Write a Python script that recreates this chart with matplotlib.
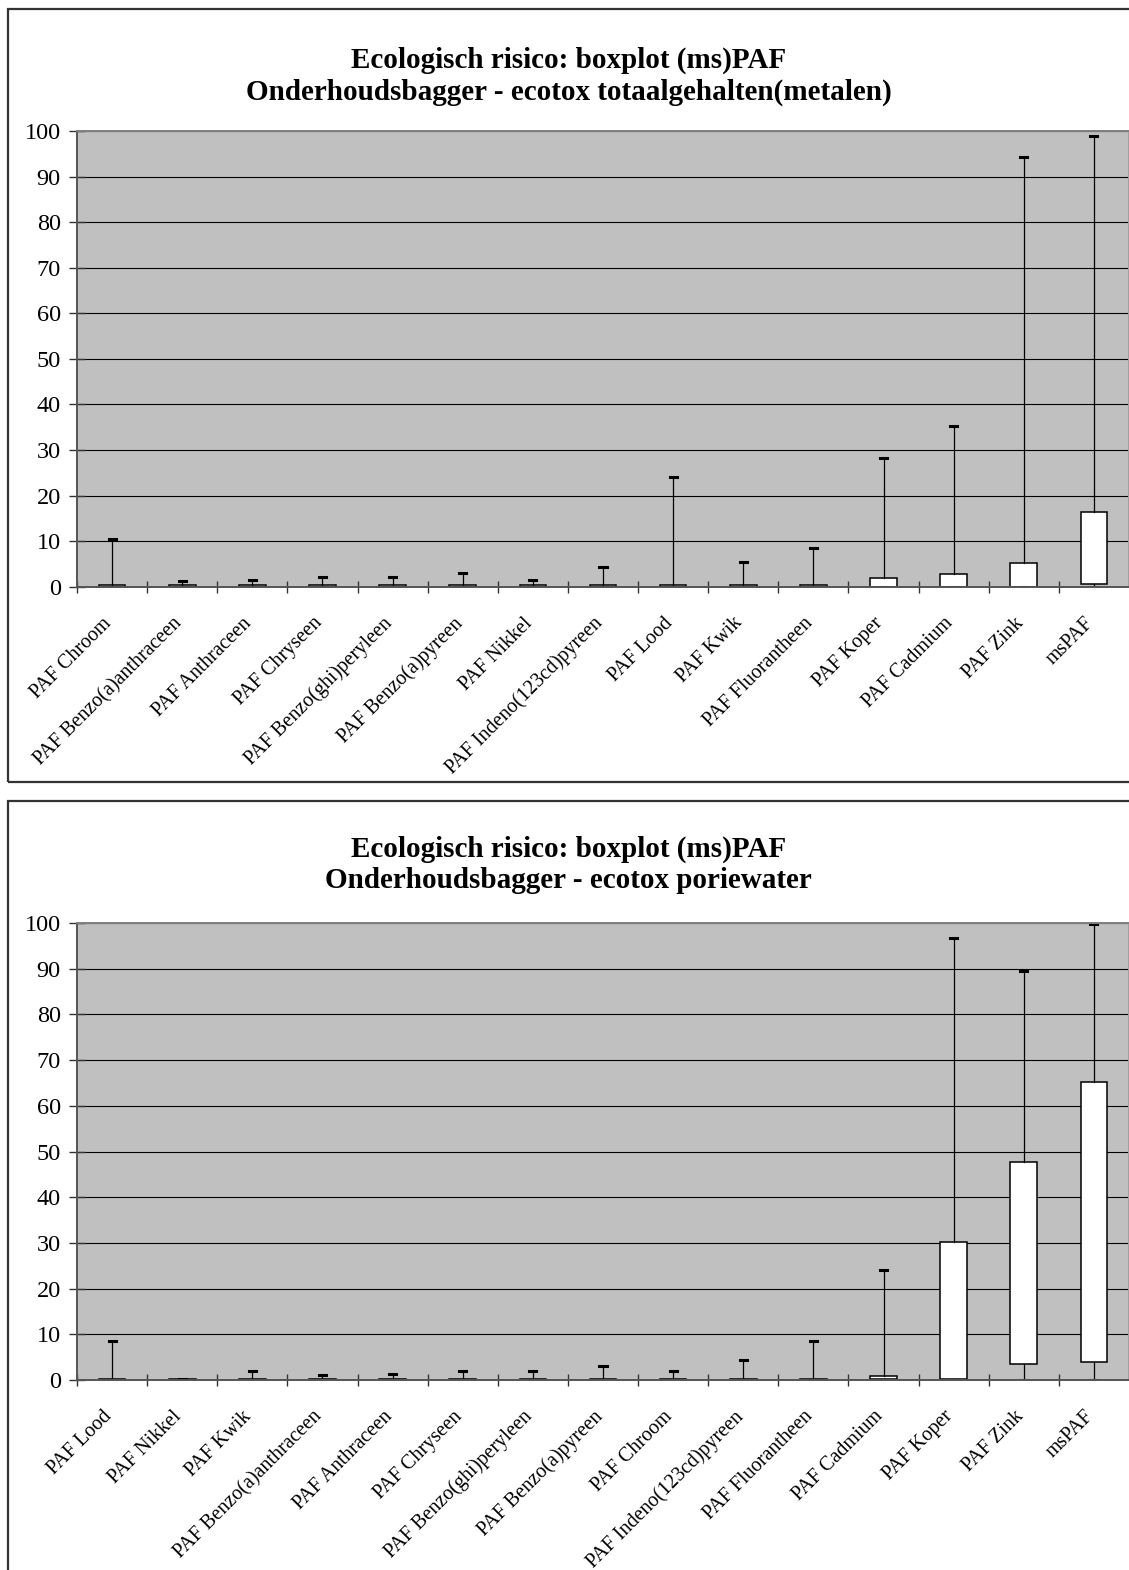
import matplotlib
matplotlib.use("Agg")
import matplotlib.pyplot as plt
from matplotlib.patches import Rectangle
from matplotlib.transforms import ScaledTranslation

plt.rcParams['font.family'] = ['Liberation Serif', 'DejaVu Serif']

# --- data: top panel (totaalgehalten metalen)
labels_top = ["PAF Chroom", "PAF Benzo(a)anthraceen", "PAF Anthraceen", "PAF Chryseen",
              "PAF Benzo(ghi)peryleen", "PAF Benzo(a)pyreen", "PAF Nikkel",
              "PAF Indeno(123cd)pyreen", "PAF Lood", "PAF Kwik", "PAF Fluorantheen",
              "PAF Koper", "PAF Cadmium", "PAF Zink", "msPAF"]
lo_top = [0, 0, 0, 0, 0, 0, 0, 0, 0, 0, 0, 0, 0, 0, 0]
q1_top = [0, 0, 0, 0, 0, 0, 0, 0, 0, 0, 0, 0, 0, 0, 0.5]
q3_top = [0.3, 0.3, 0.3, 0.3, 0.3, 0.3, 0.3, 0.3, 0.3, 0.3, 0.3, 2.0, 2.7, 5.2, 16.5]
hi_top = [10.5, 1.3, 1.5, 2.1, 2.1, 3.1, 1.5, 4.4, 24.1, 5.5, 8.4, 28.2, 35.2, 94.2, 98.9]

# --- data: bottom panel (poriewater)
labels_bot = ["PAF Lood", "PAF Nikkel", "PAF Kwik", "PAF Benzo(a)anthraceen", "PAF Anthraceen",
              "PAF Chryseen", "PAF Benzo(ghi)peryleen", "PAF Benzo(a)pyreen", "PAF Chroom",
              "PAF Indeno(123cd)pyreen", "PAF Fluorantheen", "PAF Cadmium", "PAF Koper",
              "PAF Zink", "msPAF"]
lo_bot = [0, 0, 0, 0, 0, 0, 0, 0, 0, 0, 0, 0, 0, 0, 0]
q1_bot = [0, 0, 0, 0, 0, 0, 0, 0, 0, 0, 0, 0.2, 0.2, 3.5, 3.9]
q3_bot = [0.3, 0.2, 0.3, 0.3, 0.3, 0.3, 0.3, 0.3, 0.3, 0.3, 0.3, 0.9, 30.1, 47.7, 65.3]
hi_bot = [8.5, 0.2, 2.0, 1.2, 1.4, 2.0, 2.0, 3.0, 1.9, 4.4, 8.5, 24.1, 96.7, 89.6, 99.8]

titles = ["Ecologisch risico: boxplot (ms)PAF\nOnderhoudsbagger - ecotox totaalgehalten(metalen)",
          "Ecologisch risico: boxplot (ms)PAF\nOnderhoudsbagger - ecotox poriewater"]

W, H = 1129, 1570
fig = plt.figure(figsize=(W / 100, H / 100), dpi=100)

# outer chart frames (pixel coords, from top)
for (x0, y0, x1, y1) in [(8, 9, 1140, 782), (8, 801, 1140, 1590)]:
    fig.patches.append(Rectangle((x0 / W, 1 - y1 / H), (x1 - x0) / W, (y1 - y0) / H,
                                 transform=fig.transFigure, fill=False,
                                 edgecolor='#333333', linewidth=1.6, zorder=0))


def draw_panel(rect, labels, lo, q1, q3, hi, title, title_y):
    ax = fig.add_axes(rect)
    ax.set_facecolor('#C0C0C0')
    stats = []
    for i in range(len(labels)):
        stats.append(dict(med=q1[i], q1=q1[i], q3=q3[i], whislo=lo[i], whishi=hi[i], fliers=[]))
    pos = list(range(1, len(labels) + 1))
    ax.bxp(stats, positions=pos, widths=0.38, capwidths=0.1, patch_artist=True,
           showfliers=False,
           boxprops=dict(facecolor='white', edgecolor='black', linewidth=1.1),
           whiskerprops=dict(color='black', linewidth=0.9),
           capprops=dict(color='black', linewidth=2.2),
           medianprops=dict(linewidth=0))
    ax.set_xlim(0.5, len(labels) + 0.5)
    ax.set_ylim(0, 100)
    ax.set_yticks(range(0, 101, 10))
    ax.yaxis.grid(True, color='black', linewidth=0.8)
    ax.set_axisbelow(True)
    ax.tick_params(axis='y', direction='inout', length=11.5, width=1, pad=6,
                   labelsize=17.5, color='#333333')
    ax.set_xticks(pos)
    ax.set_xticklabels(labels, rotation=45, ha='right', va='top', rotation_mode='anchor',
                       fontsize=14.5)
    ax.tick_params(axis='x', which='major', length=0, pad=19.5)
    ax.set_xticks([p + 0.5 for p in [0] + pos[:-1]], minor=True)
    ax.tick_params(axis='x', which='minor', direction='inout', length=9, width=1,
                   color='#333333')
    off = ScaledTranslation(-10 / 100, 0, fig.dpi_scale_trans)
    for lab in ax.get_xticklabels():
        lab.set_transform(lab.get_transform() + off)
    ax.spines['left'].set_color('#555555')
    ax.spines['bottom'].set_color('#555555')
    ax.spines['top'].set_color('#808080')
    ax.spines['right'].set_color('#A0A0A0')
    for s in ax.spines.values():
        s.set_linewidth(1.4)
    fig.text(568.5 / W, 1 - title_y / H, title, ha='center', va='center',
             fontsize=21, fontweight='bold', linespacing=1.22)
    return ax


draw_panel([77 / W, 1 - 586.7 / H, (1129 - 77) / W, (586.7 - 131) / H],
           labels_top, lo_top, q1_top, q3_top, hi_top, titles[0], 76)
draw_panel([77 / W, 1 - 1380 / H, (1129 - 77) / W, (1380 - 923) / H],
           labels_bot, lo_bot, q1_bot, q3_bot, hi_bot, titles[1], 865)

fig.savefig("out.png", dpi=100)
